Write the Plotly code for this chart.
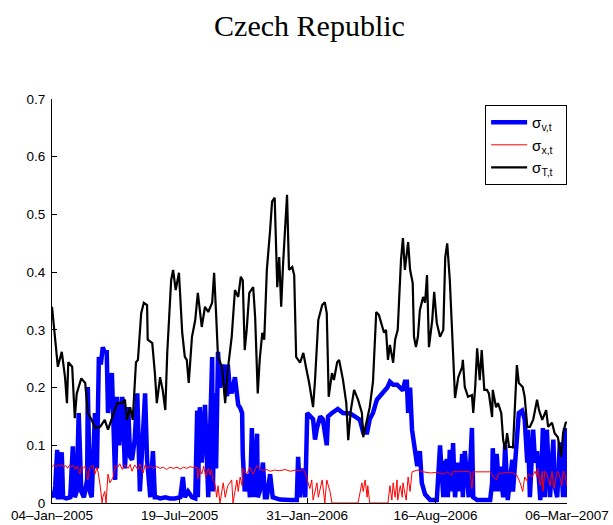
import pandas as pd
import plotly.graph_objects as go

START = "2005-01-04"
END = "2007-03-06"
tick_dates = ["2005-01-04", "2005-07-19", "2006-01-31", "2006-08-16", "2007-03-06"]
tick_labels = ["04–Jan–2005", "19–Jul–2005", "31–Jan–2006", "16–Aug–2006", "06–Mar–2007"]
y_ticks = [0, 0.1, 0.2, 0.3, 0.4, 0.5, 0.6, 0.7]

# sigma_v,t (days since 04-Jan-2005, value)
blue_days = [0, 3, 5, 8, 9, 12, 15, 17, 22, 28,
             32, 35, 38, 41, 45, 49, 54, 55, 58, 61,
             66, 69, 72, 75, 78, 81, 84, 86, 89, 92,
             97, 100, 103, 104, 108, 112, 117, 120, 123, 127,
             131, 135, 140, 143, 146, 151, 155, 158, 161, 166,
             174, 181, 189, 197, 201, 204, 209, 215, 220, 223,
             224, 227, 230, 232, 235, 240, 243, 246, 247, 250,
             252, 255, 258, 261, 263, 266, 269, 270, 273, 276,
             281, 286, 289, 292, 293, 296, 301, 304, 307, 309,
             315, 316, 319, 324, 327, 330, 335, 339, 350, 366,
             376, 378, 381, 384, 389, 392, 396, 401, 404, 407,
             412, 416, 422, 424, 430, 435, 439, 447, 458, 465,
             473, 478, 484, 488, 493, 499, 507, 515, 519, 524,
             530, 535, 539, 542, 545, 547, 550, 553, 558, 561,
             565, 568, 573, 581, 591, 596, 601, 604, 607, 608,
             611, 614, 616, 619, 624, 627, 630, 631, 634, 637,
             640, 645, 647, 653, 665, 673, 676, 677, 680, 683,
             687, 688, 693, 696, 700, 707, 708, 711, 714, 717,
             722, 726, 730, 731, 734, 737, 739, 742, 745, 750,
             754, 757, 760, 765, 770, 772, 776, 780, 785, 788,
             791]
blue_vals = [.020, .010, .030, .092, .010, .010, .088, .010, .008, .010,
             .098, .010, .020, .156, .020, .010, .040, .201, .020, .010,
             .156, .060, .253, .240, .270, .260, .265, .156, .200, .225,
             .040, .184, .100, .116, .184, .060, .166, .080, .075, .110,
             .190, .020, .150, .190, .075, .010, .090, .010, .010, .008,
             .010, .008, .008, .010, .045, .010, .020, .010, .008, .160,
             .010, .166, .070, .100, .170, .010, .150, .253, .020, .190,
             .060, .262, .200, .230, .240, .200, .185, .240, .200, .190,
             .218, .170, .165, .156, .085, .020, .050, .010, .130, .010,
             .120, .010, .020, .070, .010, .010, .050, .010, .006, .005,
             .005, .080, .010, .060, .010, .156, .150, .145, .110, .130,
             .150, .145, .100, .150, .156, .160, .163, .156, .155, .150,
             .144, .122, .122, .145, .156, .179, .190, .200, .210, .205,
             .205, .200, .195, .210, .210, .156, .200, .127, .087, .064,
             .090, .035, .015, .005, .005, .100, .010, .070, .075, .010,
             .092, .020, .104, .010, .070, .020, .085, .010, .090, .050,
             .010, .130, .010, .005, .005, .005, .035, .095, .020, .085,
             .020, .063, .010, .100, .005, .075, .020, .075, .127, .156,
             .160, .145, .070, .127, .010, .070, .127, .070, .090, .005,
             .130, .010, .127, .010, .110, .030, .010, .105, .010, .130,
             .010]

# sigma_x,t
red_days = [0, 3, 6, 9, 12, 15, 18, 21, 24, 27,
            30, 33, 36, 39, 43, 45, 48, 51, 55, 58,
            63, 66, 69, 71, 74, 77, 78, 81, 83, 86,
            89, 94, 97, 101, 104, 108, 112, 117, 120, 123,
            127, 132, 135, 140, 143, 146, 151, 156, 161, 166,
            171, 176, 181, 187, 192, 197, 202, 207, 212, 218,
            223, 224, 227, 230, 233, 236, 240, 243, 245, 247,
            250, 253, 255, 258, 263, 266, 270, 276, 278, 284,
            286, 289, 292, 293, 299, 304, 309, 315, 319, 324,
            330, 335, 342, 350, 358, 366, 374, 381, 386, 389,
            392, 396, 399, 401, 407, 409, 415, 419, 422, 427,
            430, 432, 470, 476, 478, 481, 484, 485, 488, 516,
            519, 522, 524, 527, 530, 531, 535, 538, 539, 544,
            547, 550, 553, 561, 570, 581, 591, 601, 607, 614,
            616, 622, 630, 642, 645, 647, 657, 665, 673, 676,
            677, 683, 685, 691, 699, 708, 714, 719, 723, 726,
            730, 731, 737, 742, 745, 746, 750, 753, 754, 757,
            760, 765, 768, 771, 776, 779, 783, 785, 788, 791]
red_vals = [.063, .066, .062, .066, .064, .067, .062, .065, .060, .066,
            .063, .065, .058, .064, .050, .063, .060, .064, .040, .062,
            .065, .050, .062, .052, .030, .000, .010, .020, .000, .050,
            .035, .045, .065, .062, .068, .058, .066, .060, .067, .055,
            .066, .058, .068, .052, .066, .060, .064, .060, .063, .060,
            .062, .058, .062, .060, .062, .059, .062, .060, .063, .061,
            .062, .042, .060, .050, .064, .045, .060, .048, .058, .040,
            .035, .010, .030, .000, .035, .010, .030, .040, .000, .040,
            .020, .045, .030, .060, .050, .062, .050, .065, .060, .056,
            .058, .055, .057, .056, .058, .055, .057, .056, .058, .052,
            .040, .025, .040, .005, .035, .010, .040, .000, .040, .020,
            .000, .000, .000, .035, .020, .040, .010, .030, .000, .000,
            .030, .005, .035, .010, .040, .005, .030, .010, .035, .005,
            .045, .020, .054, .057, .054, .052, .053, .050, .054, .048,
            .055, .054, .055, .054, .025, .054, .054, .053, .054, .050,
            .046, .040, .050, .052, .053, .052, .048, .035, .020, .045,
            .038, .050, .045, .055, .045, .060, .030, .055, .020, .055,
            .050, .030, .055, .025, .055, .050, .030, .055, .050, .030]

# sigma_T,t
black_days = [0, 5, 9, 15, 20, 23, 25, 31, 35, 38,
              45, 51, 55, 61, 66, 74, 81, 86, 92, 100,
              108, 112, 115, 120, 124, 129, 132, 137, 141, 146,
              147, 154, 158, 161, 166, 170, 174, 177, 183, 186,
              190, 195, 200, 204, 207, 210, 215, 220, 224, 230,
              235, 240, 246, 249, 252, 255, 261, 266, 270, 276,
              281, 286, 290, 293, 296, 299, 303, 309, 312, 316,
              319, 323, 326, 330, 335, 338, 342, 346, 349, 352,
              355, 361, 364, 369, 372, 375, 381, 386, 390, 395,
              401, 404, 409, 415, 419, 422, 425, 430, 433, 438,
              441, 447, 452, 455, 459, 464, 470, 476, 478, 484,
              488, 493, 498, 502, 507, 510, 513, 516, 519, 524,
              527, 531, 536, 539, 542, 547, 550, 554, 556, 559,
              562, 565, 570, 573, 576, 579, 584, 587, 591, 596,
              601, 604, 607, 611, 616, 619, 624, 630, 631, 634,
              639, 645, 647, 650, 653, 657, 660, 664, 668, 671,
              676, 677, 682, 685, 690, 693, 696, 699, 702, 707,
              708, 711, 714, 717, 723, 726, 730, 734, 739, 745,
              748, 753, 759, 762, 768, 772, 777, 782, 785, 789,
              791]
black_vals = [.340, .277, .236, .262, .218, .173, .244, .236, .147, .190,
              .216, .208, .156, .144, .130, .132, .144, .127, .147, .173,
              .173, .179, .144, .166, .144, .244, .248, .329, .347, .343,
              .283, .277, .225, .173, .218, .196, .161, .260, .386, .404,
              .369, .399, .295, .253, .248, .208, .288, .317, .364, .305,
              .340, .331, .347, .399, .329, .253, .236, .173, .231, .288,
              .369, .357, .392, .386, .265, .300, .364, .374, .322, .190,
              .248, .295, .283, .404, .473, .522, .529, .374, .426, .340,
              .416, .534, .404, .409, .395, .253, .243, .260, .236, .208,
              .166, .213, .317, .343, .348, .329, .184, .225, .213, .244,
              .248, .213, .173, .109, .161, .196, .179, .156, .114, .144,
              .166, .210, .331, .326, .305, .295, .300, .248, .274, .243,
              .283, .300, .421, .459, .404, .452, .404, .381, .288, .270,
              .288, .334, .357, .347, .395, .270, .317, .366, .312, .288,
              .300, .426, .450, .386, .260, .182, .218, .236, .248, .201,
              .184, .187, .156, .201, .268, .213, .265, .196, .196, .190,
              .149, .196, .166, .173, .156, .109, .092, .121, .097, .097,
              .095, .179, .239, .208, .201, .184, .132, .132, .144, .179,
              .161, .144, .161, .132, .139, .121, .114, .080, .121, .139,
              .140]


def to_dates(days):
    return pd.Timestamp(START) + pd.to_timedelta(days, unit="D")


fig = go.Figure()
fig.add_trace(go.Scatter(x=to_dates(blue_days), y=blue_vals, mode="lines",
                         line=dict(color="#0000FF", width=4.5),
                         name="σ<sub>v,t</sub>&nbsp;&nbsp;"))
fig.add_trace(go.Scatter(x=to_dates(red_days), y=red_vals, mode="lines",
                         line=dict(color="#FF0000", width=1),
                         name="σ<sub>x,t</sub>&nbsp;&nbsp;"))
fig.add_trace(go.Scatter(x=to_dates(black_days), y=black_vals, mode="lines",
                         line=dict(color="#000000", width=2.2),
                         name="σ<sub>T,t</sub>&nbsp;&nbsp;"))

axis_font = dict(family="Liberation Sans, Arial, sans-serif", size=13.5, color="#000000")
fig.update_layout(
    width=613, height=525,
    margin=dict(l=52, r=46, t=99, b=22, pad=0, autoexpand=False),
    paper_bgcolor="white", plot_bgcolor="white",
    title=dict(text="Czech Republic", x=0.5, xref="paper", xanchor="center",
               y=0.952, yref="container", yanchor="middle",
               font=dict(family="Liberation Serif, Times New Roman, serif", size=30, color="#000000")),
    showlegend=True,
    legend=dict(x=0.841, y=0.985, xanchor="left", yanchor="top",
                bgcolor="white", bordercolor="black", borderwidth=1,
                font=dict(family="Liberation Sans, Arial, sans-serif", size=15, color="#000000"),
                itemwidth=36, tracegroupgap=0),
    xaxis=dict(type="date", range=[START, END], tickvals=tick_dates, ticktext=tick_labels,
               showline=True, linecolor="black", linewidth=1, mirror=False, automargin=False,
               ticks="inside", ticklen=5, tickcolor="black", showgrid=False, zeroline=False,
               tickfont=axis_font, tickangle=0),
    yaxis=dict(range=[0, 0.7], tickvals=y_ticks, showline=True, linecolor="black", linewidth=1,
               mirror=False, ticks="inside", ticklen=5, tickcolor="black", showgrid=False,
               zeroline=False, tickfont=axis_font, ticklabelstandoff=3, automargin=False),
)

fig.write_html("out.html", config={"displayModeBar": False},
               post_script="document.body.style.margin='0';document.body.style.overflow='hidden';")
